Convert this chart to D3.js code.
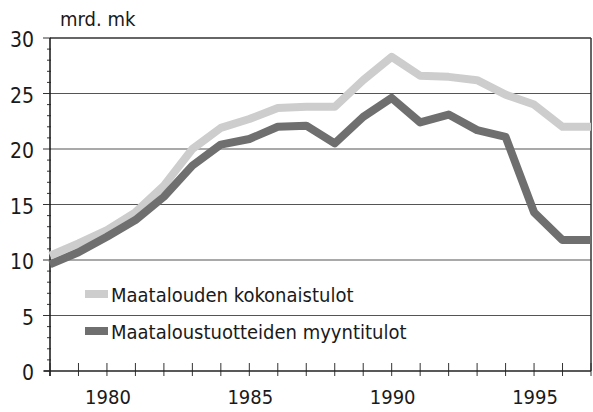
<!DOCTYPE html>
<html>
<head>
<meta charset="utf-8">
<script src="https://cdn.jsdelivr.net/npm/d3@7"></script>
<style>
  body { margin: 0; background: #fff; }
  text { font-family: "Liberation Sans Narrow", "DejaVu Sans Condensed", "Roboto", sans-serif; fill: #1a1a1a; }
</style>
</head>
<body>
<svg id="chart" width="593" height="412"></svg>
<script>
// Data
var years = [1978, 1979, 1980, 1981, 1982, 1983, 1984, 1985, 1986, 1987,
             1988, 1989, 1990, 1991, 1992, 1993, 1994, 1995, 1996, 1997];
var kokonaistulot = [10.4, 11.5, 12.7, 14.3, 16.7, 20.0, 21.9, 22.7, 23.7, 23.8,
                     23.8, 26.2, 28.3, 26.6, 26.5, 26.2, 24.9, 24.0, 22.0, 22.0];
var myyntitulot = [9.6, 10.7, 12.1, 13.6, 15.7, 18.5, 20.4, 20.9, 22.0, 22.1,
                   20.5, 22.9, 24.6, 22.4, 23.1, 21.7, 21.1, 14.3, 11.8, 11.8];
var yTicks = [0, 5, 10, 15, 20, 25, 30];
var xLabels = [1980, 1985, 1990, 1995];
var seriesNames = ["Maatalouden kokonaistulot", "Maataloustuotteiden myyntitulot"];

var svg = d3.select("#chart");

var x = d3.scaleLinear().domain([1978, 1997]).range([50, 591]);
var y = d3.scaleLinear().domain([0, 30]).range([371, 38]);

// gridlines
svg.append("g")
    .selectAll("line")
    .data(yTicks.filter(function(d) { return d > 0 && d < 30; }))
    .enter()
    .append("line")
    .attr("x1", x(1978))
    .attr("x2", x(1997))
    .attr("y1", function(d) { return y(d); })
    .attr("y2", function(d) { return y(d); })
    .attr("stroke", "#555")
    .attr("stroke-width", 1.1);

// frame: top and right
svg.append("line")
    .attr("x1", x(1978)).attr("x2", x(1997))
    .attr("y1", y(30)).attr("y2", y(30))
    .attr("stroke", "#333").attr("stroke-width", 1.5);
svg.append("line")
    .attr("x1", x(1997)).attr("x2", x(1997))
    .attr("y1", y(30)).attr("y2", y(0))
    .attr("stroke", "#333").attr("stroke-width", 1.5);

// y minor ticks
svg.append("g")
    .selectAll("line")
    .data(d3.range(0, 31))
    .enter()
    .append("line")
    .attr("x1", function(d) { return d % 5 === 0 ? 43 : 47; })
    .attr("x2", x(1978) + 1)
    .attr("y1", function(d) { return y(d); })
    .attr("y2", function(d) { return y(d); })
    .attr("stroke", "#333")
    .attr("stroke-width", 1);

// x ticks (crossing the axis)
svg.append("g")
    .selectAll("line")
    .data(years)
    .enter()
    .append("line")
    .attr("x1", function(d) { return x(d); })
    .attr("x2", function(d) { return x(d); })
    .attr("y1", y(0) - 8)
    .attr("y2", y(0) + 5)
    .attr("stroke", "#333")
    .attr("stroke-width", 1);

// axis lines
svg.append("line")
    .attr("x1", x(1978)).attr("x2", x(1978))
    .attr("y1", y(30)).attr("y2", y(0) + 5)
    .attr("stroke", "#222").attr("stroke-width", 1.6);
svg.append("line")
    .attr("x1", x(1978) - 6).attr("x2", x(1997))
    .attr("y1", y(0)).attr("y2", y(0))
    .attr("stroke", "#222").attr("stroke-width", 1.6);

// y labels
svg.append("g")
    .selectAll("text")
    .data(yTicks)
    .enter()
    .append("text")
    .attr("x", 34)
    .attr("y", function(d) { return y(d) + 9; })
    .attr("text-anchor", "end")
    .attr("font-size", "21px")
    .text(function(d) { return d; });

// x labels
svg.append("g")
    .selectAll("text")
    .data(xLabels)
    .enter()
    .append("text")
    .attr("x", function(d) { return x(d) + 1; })
    .attr("y", 404)
    .attr("text-anchor", "middle")
    .attr("font-size", "20px")
    .text(function(d) { return d; });

// unit label
svg.append("text")
    .attr("x", 60)
    .attr("y", 26)
    .attr("font-size", "20px")
    .text("mrd. mk");

// lines
var line = d3.line()
    .x(function(d, i) { return x(years[i]); })
    .y(function(d) { return y(d); });

svg.append("path")
    .datum(kokonaistulot)
    .attr("d", line)
    .attr("fill", "none")
    .attr("stroke", "#cdcdcd")
    .attr("stroke-width", 8)
    .attr("stroke-linejoin", "round");

svg.append("path")
    .datum(myyntitulot)
    .attr("d", line)
    .attr("fill", "none")
    .attr("stroke", "#6f6f6f")
    .attr("stroke-width", 8)
    .attr("stroke-linejoin", "round");

// legend
var legendColors = ["#cdcdcd", "#6f6f6f"];
var legendY = [294, 331];
var legend = svg.append("g")
    .selectAll("g")
    .data(seriesNames)
    .enter()
    .append("g");

legend.append("line")
    .attr("x1", 85).attr("x2", 108)
    .attr("y1", function(d, i) { return legendY[i]; })
    .attr("y2", function(d, i) { return legendY[i]; })
    .attr("stroke", function(d, i) { return legendColors[i]; })
    .attr("stroke-width", 8);

legend.append("text")
    .attr("x", 111)
    .attr("y", function(d, i) { return legendY[i] + 8; })
    .attr("font-size", "20px")
    .text(function(d) { return d; });
</script>
</body>
</html>
